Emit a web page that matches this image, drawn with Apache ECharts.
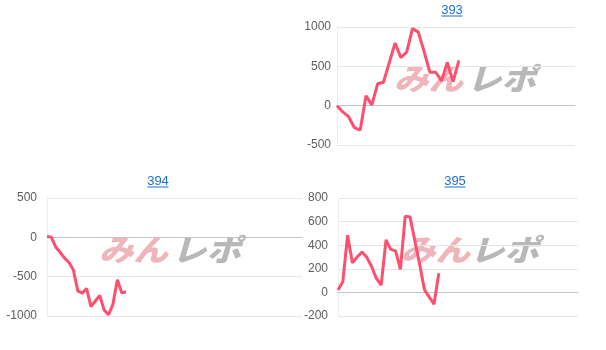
<!DOCTYPE html>
<html>
<head>
<meta charset="utf-8">
<script src="https://cdn.jsdelivr.net/npm/echarts@6/dist/echarts.min.js"></script>
<style>
html,body{margin:0;padding:0;background:#fff;}
#chart{width:606px;height:350px;}
</style>
</head>
<body>
<div id="chart"></div>
<script>
// ---- data ----
const titles = ['393', '394', '395'];
const categories393 = Array.from({length: 42}, (_, i) => i + 1);
const categories394 = Array.from({length: 59}, (_, i) => i + 1);
const categories395 = Array.from({length: 51}, (_, i) => i + 1);
const values393 = [0, -80, -140, -280, -310, 125, 10, 278, 298, 545, 795, 612, 680, 980, 935, 690, 425, 425, 315, 550, 305, 575];
const values394 = [12, 0, -125, -190, -265, -320, -415, -680, -710, -650, -880, -810, -740, -925, -985, -850, -540, -705, -695];
const values395 = [20, 90, 485, 250, 300, 342, 297, 220, 118, 62, 445, 365, 352, 195, 645, 640, 440, 240, 25, -40, -100, 162];
const yTicks393 = {min: -500, max: 1000, interval: 500};
const yTicks394 = {min: -1000, max: 500, interval: 500};
const yTicks395 = {min: -200, max: 800, interval: 200};

const FONT = '"Liberation Sans", Arial, sans-serif';
const LINE = '#ff4f6f';

const grids = [
  {left: 337, top: 27, width: 238, height: 118},
  {left: 47, top: 198, width: 255, height: 118},
  {left: 338, top: 198, width: 240, height: 118}
];
const cats = [categories393, categories394, categories395];
const vals = [values393, values394, values395];
const ticks = [yTicks393, yTicks394, yTicks395];
const labelMargins = [6, 10, 10];

const xAxes = cats.map((c, i) => ({
  type: 'category', gridIndex: i, data: c, boundaryGap: false,
  axisLabel: {show: false}, axisTick: {show: false}, splitLine: {show: false},
  axisLine: {show: true, onZero: true, lineStyle: {color: '#c4c4c4', width: 1}}
}));
const yAxes = ticks.map((t, i) => ({
  type: 'value', gridIndex: i, min: t.min, max: t.max, interval: t.interval,
  axisLabel: {color: '#5e5e5e', fontSize: 12, fontFamily: FONT, margin: labelMargins[i], formatter: v => String(v)},
  axisTick: {show: false},
  axisLine: {show: true, lineStyle: {color: '#eeeeee'}},
  splitLine: {show: true, lineStyle: {color: '#e6e6e6'}}
}));
const series = vals.map((v, i) => ({
  type: 'line', xAxisIndex: i, yAxisIndex: i, data: v,
  showSymbol: false, symbol: 'none', smooth: false,
  lineStyle: {color: LINE, width: 3}, itemStyle: {color: LINE},
  z: 5, animation: false
}));

// title positions & watermark positions
const titlePos = [{x: 452, y: 10.5, ux0: 441.5, ux1: 462.5, uy: 16}, {x: 158, y: 181.5, ux0: 147.5, ux1: 168.5, uy: 187}, {x: 455, y: 181.5, ux0: 444.5, ux1: 465.5, uy: 187}];
const markPos = [{px: 394, gx: 467, y: 79}, {px: 99, gx: 172, y: 250}, {px: 401, gx: 470, y: 250}];

const graphic = [];
titles.forEach((t, i) => {
  const p = titlePos[i];
  graphic.push({type: 'text', x: p.x, y: p.y, z: 10, style: {text: t, fill: '#1e70cf', font: '13px ' + FONT, textAlign: 'center', textVerticalAlign: 'middle'}});
  graphic.push({type: 'line', z: 10, shape: {x1: p.ux0, y1: p.uy, x2: p.ux1, y2: p.uy}, style: {stroke: '#1e70cf', lineWidth: 1}});
  const m = markPos[i];
  graphic.push({type: 'text', x: m.px, y: m.y, z: -1, scaleX: 1.15, style: {text: 'みん', fill: '#f0b5ba', font: 'italic 900 30px "Noto Sans CJK JP"', textAlign: 'left', textVerticalAlign: 'middle'}});
  graphic.push({type: 'text', x: m.gx, y: m.y, z: -1, scaleX: 1.15, style: {text: 'レポ', fill: '#b8b8b8', font: 'italic 900 30px "Noto Sans CJK JP"', textAlign: 'left', textVerticalAlign: 'middle'}});
});

const chart = echarts.init(document.getElementById('chart'), null, {renderer: 'canvas'});
chart.setOption({
  animation: false,
  backgroundColor: '#fff',
  textStyle: {fontFamily: FONT},
  grid: grids,
  xAxis: xAxes,
  yAxis: yAxes,
  series: series,
  graphic: graphic
});
</script>
</body>
</html>
